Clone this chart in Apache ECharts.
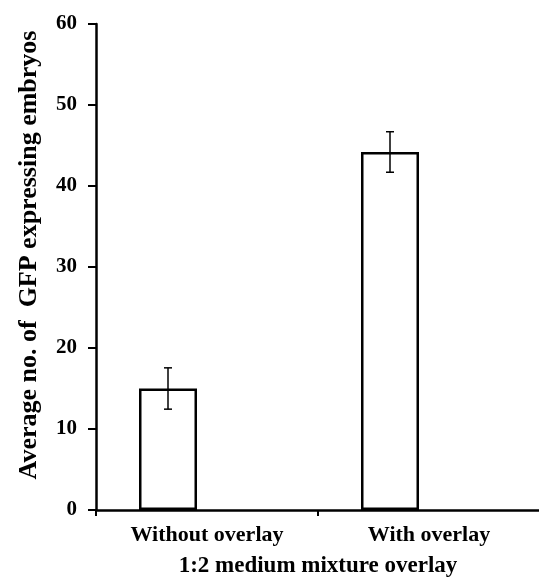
<!DOCTYPE html>
<html>
<head>
<meta charset="utf-8">
<script src="https://cdn.jsdelivr.net/npm/echarts@6/dist/echarts.min.js"></script>
<style>html,body{margin:0;padding:0;background:#fff}#c{width:539px;height:577px}</style>
</head>
<body>
<div id="c"></div>
<script>
var categories = ['Without overlay', 'With overlay'];
var means = [15.0, 44.2];
var errors = [2.55, 2.5];
var yTicks = [0, 10, 20, 30, 40, 50, 60];

var BAR_W = 58, GAP_PX = 20;
var font = 'Liberation Serif';
var chart = echarts.init(document.getElementById('c'));
chart.setOption({
  animation: false,
  grid: { left: 96, right: -1, top: 24, bottom: 67, outerBoundsMode: 'none', containLabel: false },
  xAxis: {
    type: 'category', data: categories,
    axisLine: { lineStyle: { color: '#000', width: 2.5 } },
    axisTick: { show: true, length: 6, lineStyle: { color: '#000', width: 2 } },
    axisLabel: { color: '#000', fontFamily: font, fontWeight: 'bold', fontSize: 22, margin: 14 },
    name: '1:2 medium mixture overlay', nameLocation: 'middle', nameGap: 45,
    nameTextStyle: { color: '#000', fontFamily: font, fontWeight: 'bold', fontSize: 23 }
  },
  yAxis: {
    type: 'value', min: yTicks[0], max: yTicks[yTicks.length - 1], interval: 10,
    axisLine: { show: true, lineStyle: { color: '#000', width: 2.5 } },
    axisTick: { show: true, length: 8, lineStyle: { color: '#000', width: 2 } },
    splitLine: { show: false },
    axisLabel: { color: '#000', fontFamily: font, fontWeight: 'bold', fontSize: 21, margin: 19 },
    name: 'Average no. of  GFP expressing embryos', nameLocation: 'middle', nameGap: 54,
    nameTextStyle: { color: '#000', fontFamily: font, fontWeight: 'bold', fontSize: 26, padding: [0, 0, 0, 24] }
  },
  series: [
    {
      type: 'bar', data: means, barWidth: BAR_W, barGap: (GAP_PX / BAR_W * 100) + '%',
      itemStyle: { color: '#fff', borderColor: '#000', borderWidth: 2.5 }, z: 2
    },
    { type: 'bar', data: ['-', '-'], barWidth: BAR_W },
    {
      type: 'custom', z: 5,
      data: means.map(function (m, i) { return [i, m, errors[i]]; }),
      renderItem: function (params, api) {
        var i = api.value(0), m = api.value(1), e = api.value(2);
        var top = api.coord([i, m + e]);
        var bot = api.coord([i, m - e]);
        var x = top[0] - (BAR_W + GAP_PX) / 2;
        var cap = 4;
        var st = { stroke: '#000', lineWidth: 1.5 };
        return { type: 'group', children: [
          { type: 'line', shape: { x1: x, y1: top[1], x2: x, y2: bot[1] }, style: st },
          { type: 'line', shape: { x1: x - cap, y1: top[1], x2: x + cap, y2: top[1] }, style: st },
          { type: 'line', shape: { x1: x - cap, y1: bot[1], x2: x + cap, y2: bot[1] }, style: st }
        ]};
      }
    }
  ]
});
</script>
</body>
</html>
